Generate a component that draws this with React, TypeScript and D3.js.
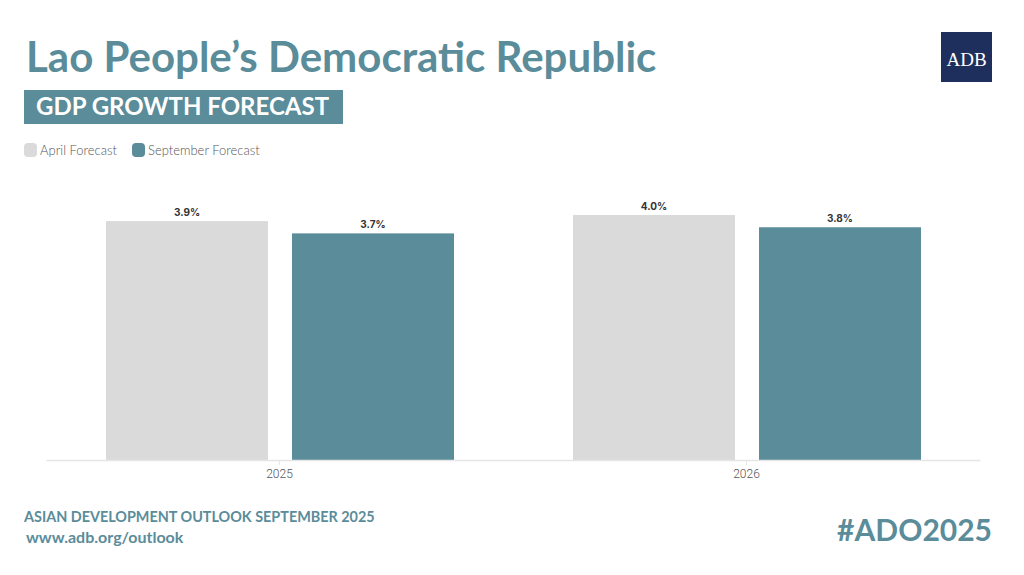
import React, { useRef, useEffect } from "react";
import * as d3 from "d3";

const years = ["2025", "2026"];
const seriesNames = ["April Forecast", "September Forecast"];
const aprilValues = [3.9, 4.0];
const septemberValues = [3.7, 3.8];
const colors = ["#dadada", "#5a8c9a"];

const W = 1024;
const H = 575;
const TEAL = "#5a8c9a";

const App = () => {
  const node: any = useRef();

  useEffect(() => {
    const svg = d3.select(node.current);
    svg.selectAll("*").remove();

    const font = "Lato, 'Open Sans', sans-serif";

    // title block
    svg
      .append("text")
      .attr("x", 26)
      .attr("y", 72)
      .attr("font-family", font)
      .attr("font-weight", 700)
      .attr("font-size", 42)
      .attr("fill", TEAL)
      .text("Lao People\u2019s Democratic Republic");

    svg.append("rect").attr("x", 24).attr("y", 90).attr("width", 319).attr("height", 34).attr("fill", TEAL);
    svg
      .append("text")
      .attr("x", 36)
      .attr("y", 115)
      .attr("font-family", font)
      .attr("font-weight", 700)
      .attr("font-size", 24)
      .attr("fill", "#fff")
      .text("GDP GROWTH FORECAST");

    // ADB logo
    svg.append("rect").attr("x", 941).attr("y", 32).attr("width", 51).attr("height", 50).attr("fill", "#1f2f5d");
    svg
      .append("text")
      .attr("x", 966.5)
      .attr("y", 66)
      .attr("text-anchor", "middle")
      .attr("font-family", "'Liberation Serif', 'DejaVu Serif', serif")
      .attr("font-size", 19)
      .attr("fill", "#fff")
      .text("ADB");

    // legend
    const legendX = [24, 132];
    seriesNames.forEach((name, i) => {
      svg
        .append("rect")
        .attr("x", legendX[i])
        .attr("y", 143)
        .attr("width", 13)
        .attr("height", 14)
        .attr("rx", 4)
        .attr("fill", colors[i]);
      svg
        .append("text")
        .attr("x", legendX[i] + 16)
        .attr("y", 155)
        .attr("font-family", font)
        .attr("font-weight", 300)
        .attr("font-size", 13)
        .attr("fill", "#555")
        .text(name);
    });

    // chart
    const baseline = 460;
    const x0 = d3.scaleBand().domain(years).range([46, 980]).paddingInner(0).paddingOuter(0);
    const x1 = d3
      .scaleBand()
      .domain(seriesNames)
      .range([60, x0.bandwidth() - 59])
      .paddingInner(0.129)
      .paddingOuter(0);
    const y = d3.scaleLinear().domain([0, 4.0]).range([baseline, 215]);

    const data = years.map((yr, i) => ({
      year: yr,
      values: [aprilValues[i], septemberValues[i]],
    }));

    const groups = svg
      .selectAll("g.grp")
      .data(data)
      .enter()
      .append("g")
      .attr("transform", (d) => `translate(${x0(d.year)},0)`);

    groups
      .selectAll("rect")
      .data((d) => d.values.map((v, j) => ({ v, name: seriesNames[j], color: colors[j] })))
      .enter()
      .append("rect")
      .attr("x", (d) => x1(d.name) as number)
      .attr("y", (d) => y(d.v))
      .attr("width", x1.bandwidth())
      .attr("height", (d) => baseline - y(d.v))
      .attr("fill", (d) => d.color);

    groups
      .selectAll("text")
      .data((d) => d.values.map((v, j) => ({ v, name: seriesNames[j] })))
      .enter()
      .append("text")
      .attr("x", (d) => (x1(d.name) as number) + x1.bandwidth() / 2)
      .attr("y", (d) => y(d.v) - 5)
      .attr("text-anchor", "middle")
      .attr("font-family", "Inter, 'Open Sans', sans-serif")
      .attr("font-weight", 700)
      .attr("font-size", 10)
      .attr("fill", "#333")
      .text((d) => d.v.toFixed(1) + "%");

    // x axis
    const axis = svg
      .append("g")
      .attr("transform", `translate(0,${baseline})`)
      .call(d3.axisBottom(x0).tickSize(5).tickSizeOuter(0).tickPadding(4));
    axis.select(".domain").attr("stroke", "#e6e6e6").attr("stroke-width", 1.5);
    axis.selectAll(".tick line").attr("stroke", "#e6e6e6");
    axis
      .selectAll(".tick text")
      .attr("font-family", "Roboto, sans-serif")
      .attr("font-weight", 300)
      .attr("font-size", 12)
      .attr("fill", "#555");

    // footer
    svg
      .append("text")
      .attr("x", 24)
      .attr("y", 522)
      .attr("font-family", font)
      .attr("font-weight", 700)
      .attr("font-size", 14.4)
      .attr("fill", TEAL)
      .text("ASIAN DEVELOPMENT OUTLOOK SEPTEMBER 2025");
    svg
      .append("text")
      .attr("x", 26)
      .attr("y", 543)
      .attr("font-family", font)
      .attr("font-weight", 700)
      .attr("font-size", 16)
      .attr("fill", TEAL)
      .text("www.adb.org/outlook");
    svg
      .append("text")
      .attr("x", 992)
      .attr("y", 541)
      .attr("text-anchor", "end")
      .attr("font-family", font)
      .attr("font-weight", 700)
      .attr("font-size", 30)
      .attr("fill", TEAL)
      .text("#ADO2025");
  }, []);

  return (
    <svg
      ref={node}
      width={W}
      height={H}
      style={{ position: "absolute", left: 0, top: 0, background: "#fff" }}
    ></svg>
  );
};

export default App;
